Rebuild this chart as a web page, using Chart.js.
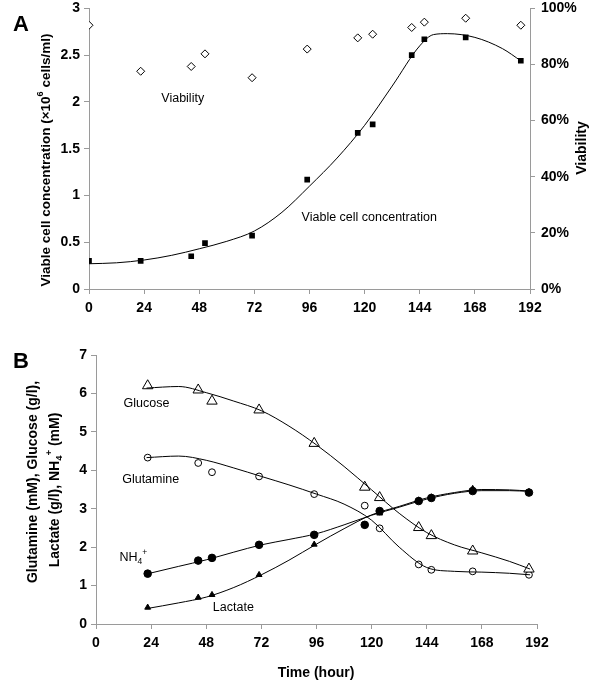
<!DOCTYPE html>
<html>
<head>
<meta charset="utf-8">
<script src="https://cdn.jsdelivr.net/npm/chart.js@4.4.1/dist/chart.umd.min.js"></script>
<style>
  html, body { margin: 0; padding: 0; background: #fff; overflow: hidden; }
  #wrapA { position: absolute; left: 0; top: -6px; width: 600px; height: 341px; }
  #wrapB { position: absolute; left: 0; top: 335px; width: 600px; height: 355px; }
</style>
</head>
<body>
<div id="wrapA"><canvas id="chartA"></canvas></div>
<div id="wrapB"><canvas id="chartB"></canvas></div>
<script>
/* ---------------- Panel A data ---------------- */
const sampleHoursA = [0, 22.5, 44.5, 50.5, 71, 95, 117, 123.5, 140.5, 146, 164, 188];
const viableCells  = [0.30, 0.30, 0.35, 0.49, 0.57, 1.17, 1.67, 1.76, 2.50, 2.67, 2.69, 2.44];
const viabilityPct = [94, 77.6, 79.3, 83.8, 75.3, 85.5, 89.5, 90.8, 93.2, 95.1, 96.5, 94];

const fitHoursA   = [0, 12, 24, 36, 48, 60, 72, 84, 96, 108, 120, 132, 144, 150, 156, 168, 180, 188];
const viableFit   = [0.27, 0.28, 0.31, 0.36, 0.43, 0.51, 0.62, 0.82, 1.10, 1.40, 1.75, 2.17, 2.60, 2.72, 2.73, 2.69, 2.57, 2.44];

/* ---------------- Panel B data ---------------- */
const sampleHoursB = [22.5, 44.5, 50.5, 71, 95, 117, 123.5, 140.5, 146, 164, 188.5];
const glucose   = [6.20, 6.09, 5.80, 5.57, 4.70, 3.56, 3.29, 2.51, 2.30, 1.90, 1.43];
const glutamine = [4.33, 4.19, 3.95, 3.84, 3.38, 3.08, 2.49, 1.55, 1.41, 1.37, 1.28];
const ammonium  = [1.31, 1.65, 1.72, 2.06, 2.32, 2.58, 2.94, 3.20, 3.28, 3.46, 3.42];
const lactate   = [0.43, 0.69, 0.76, 1.28, 2.07, null, 2.88, 3.22, 3.30, 3.52, 3.44];

const fitHoursB    = [22, 36, 48, 60, 72, 84, 96, 108, 120, 132, 144, 156, 168, 180, 189];
const glucoseFit   = [6.14, 6.18, 6.02, 5.80, 5.55, 5.15, 4.66, 4.10, 3.49, 2.88, 2.38, 2.06, 1.85, 1.63, 1.43];
const glutamineFit = [4.33, 4.37, 4.26, 4.06, 3.84, 3.62, 3.38, 3.12, 2.70, 2.00, 1.47, 1.37, 1.35, 1.32, 1.28];
const ammoniumFit  = [1.30, 1.50, 1.67, 1.87, 2.06, 2.20, 2.35, 2.58, 2.83, 3.04, 3.25, 3.40, 3.47, 3.47, 3.45];
const lactateFit   = [0.40, 0.55, 0.70, 0.95, 1.28, 1.66, 2.08, 2.48, 2.84, 3.06, 3.28, 3.42, 3.50, 3.49, 3.46];

/* ---------------- Tick labels ---------------- */
const hourTicks    = [0, 24, 48, 72, 96, 120, 144, 168, 192];
const cellTicks    = [0, 0.5, 1, 1.5, 2, 2.5, 3];
const percentTicks = [0, 20, 40, 60, 80, 100];
const metabTicks   = [0, 1, 2, 3, 4, 5, 6, 7];

const FONT = '"Liberation Sans", Arial, sans-serif';
const AXIS_GRAY = "#9a9a9a";

const zip = (xs, ys) => xs.map((x, i) => ({ x: x, y: ys[i] }));

/* draws a text made of parts (normal / sup / sub), centred on (cx, cy) */
function drawRich(ctx, parts, cx, cy, size, weight, rotate) {
  const fontFor = (p) => `${weight} ${p.s ? size * 0.68 : size}px ${FONT}`;
  ctx.save();
  ctx.translate(cx, cy);
  if (rotate) ctx.rotate(rotate);
  let total = 0;
  parts.forEach((p) => { ctx.font = fontFor(p); total += ctx.measureText(p.t).width; });
  let x = -total / 2;
  ctx.fillStyle = "#000";
  ctx.textAlign = "left";
  ctx.textBaseline = "middle";
  parts.forEach((p) => {
    ctx.font = fontFor(p);
    const dy = p.s === "sup" ? -size * 0.38 : p.s === "sub" ? size * 0.3 : 0;
    ctx.fillText(p.t, x, dy);
    x += ctx.measureText(p.t).width;
  });
  ctx.restore();
}

/* labels plugin: text placed in data coordinates, titles in pixels */
const textPlugin = {
  id: "texts",
  afterDraw(chart, args, opts) {
    const ctx = chart.ctx;
    (opts.inData || []).forEach((l) => {
      const xs = chart.scales.x, ys = chart.scales[l.axis || "y"];
      drawRich(ctx, l.parts, xs.getPixelForValue(l.x), ys.getPixelForValue(l.y), l.size, l.weight || "normal", 0);
    });
    (opts.inPixels || []).forEach((l) => {
      drawRich(ctx, l.parts, l.x, l.y, l.size, l.weight || "bold", l.rotate || 0);
    });
  }
};

function axisStyle(extra) {
  return Object.assign({
    grid: { drawOnChartArea: false, drawTicks: true, tickLength: 5, color: AXIS_GRAY, lineWidth: 1 },
    border: { color: AXIS_GRAY, width: 1 },
    ticks: { color: "#000", font: { family: FONT, size: 14, weight: "bold" }, callback: (v) => String(v) }
  }, extra);
}

function hourAxis(height) {
  const ax = axisStyle({ type: "linear", min: 0, max: 192 });
  ax.ticks.padding = 6;
  ax.afterBuildTicks = (s) => { s.ticks = hourTicks.map((v) => ({ value: v })); };
  ax.afterFit = (s) => { s.height = height; };
  return ax;
}

/* ---------------- Panel A chart ---------------- */
function renderPanelA() {
  const yLeft = axisStyle({ type: "linear", position: "left", min: 0, max: 3 });
  yLeft.ticks.padding = 4;
  yLeft.afterBuildTicks = (s) => { s.ticks = cellTicks.map((v) => ({ value: v })); };
  yLeft.afterFit = (s) => { s.width = 89; };

  const yRight = axisStyle({ type: "linear", position: "right", min: 0, max: 100 });
  yRight.ticks.padding = 6;
  yRight.ticks.callback = (v) => v + "%";
  yRight.afterBuildTicks = (s) => { s.ticks = percentTicks.map((v) => ({ value: v })); };
  yRight.afterFit = (s) => { s.width = 70; };

  new Chart(document.getElementById("chartA"), {
    type: "scatter",
    data: {
      datasets: [
        {
          data: zip(fitHoursA, viableFit), showLine: true, pointRadius: 0,
          borderColor: "#000", borderWidth: 1, cubicInterpolationMode: "monotone", yAxisID: "y"
        },
        {
          data: zip(sampleHoursA, viableCells), pointStyle: "rect", pointRadius: 4,
          backgroundColor: "#000", borderColor: "#000", borderWidth: 0, yAxisID: "y"
        },
        {
          data: zip(sampleHoursA, viabilityPct), pointStyle: "rectRot", pointRadius: 4,
          backgroundColor: "#fff", borderColor: "#000", borderWidth: 1, yAxisID: "yR"
        }
      ]
    },
    options: {
      animation: false,
      responsive: true,
      maintainAspectRatio: false,
      layout: { padding: { top: 7.5, left: 0, right: 0, bottom: 0 } },
      plugins: {
        legend: { display: false },
        tooltip: { enabled: false },
        texts: {
          inData: [
            { parts: [{ t: "Viability" }], x: 40.8, y: 2.04, size: 12.5 },
            { parts: [{ t: "Viable cell concentration" }], x: 122, y: 0.76, size: 12.5 }
          ],
          inPixels: [
            { parts: [{ t: "A" }], x: 21, y: 31, size: 22 },
            { parts: [{ t: "Viable cell concentration (×10" }, { t: "6", s: "sup" }, { t: " cells/ml)" }],
              x: 46, y: 166, size: 13.5, rotate: -Math.PI / 2 },
            { parts: [{ t: "Viability" }], x: 582, y: 154, size: 14, rotate: -Math.PI / 2 }
          ]
        }
      },
      scales: { x: hourAxis(46), y: yLeft, yR: yRight }
    },
    plugins: [textPlugin]
  });
}

/* ---------------- Panel B chart ---------------- */
function renderPanelB() {
  const yAxis = axisStyle({ type: "linear", position: "left", min: 0, max: 7 });
  yAxis.ticks.padding = 4;
  yAxis.afterBuildTicks = (s) => { s.ticks = metabTicks.map((v) => ({ value: v })); };
  yAxis.afterFit = (s) => { s.width = 96; };

  const fitLine = (ys) => ({
    data: zip(fitHoursB, ys), showLine: true, pointRadius: 0,
    borderColor: "#000", borderWidth: 1, cubicInterpolationMode: "monotone"
  });
  const marks = (ys, style, r, fill) => ({
    data: zip(sampleHoursB, ys), pointStyle: style, pointRadius: r,
    backgroundColor: fill, borderColor: "#000", borderWidth: 1
  });

  new Chart(document.getElementById("chartB"), {
    type: "scatter",
    data: {
      datasets: [
        fitLine(glucoseFit), fitLine(glutamineFit), fitLine(ammoniumFit), fitLine(lactateFit),
        marks(glucose, "triangle", 6, "#fff"),
        marks(glutamine, "circle", 3.4, "#fff"),
        marks(lactate, "triangle", 3.4, "#000"),
        marks(ammonium, "circle", 3.8, "#000")
      ]
    },
    options: {
      animation: false,
      responsive: true,
      maintainAspectRatio: false,
      layout: { padding: { top: 20, left: 0, right: 63, bottom: 0 } },
      plugins: {
        legend: { display: false },
        tooltip: { enabled: false },
        texts: {
          inData: [
            { parts: [{ t: "Glucose" }], x: 22, y: 5.73, size: 12.5 },
            { parts: [{ t: "Glutamine" }], x: 23.8, y: 3.75, size: 12.5 },
            { parts: [{ t: "NH" }, { t: "4", s: "sub" }, { t: "+", s: "sup" }], x: 16.3, y: 1.73, size: 12.5 },
            { parts: [{ t: "Lactate" }], x: 59.8, y: 0.42, size: 12.5 }
          ],
          inPixels: [
            { parts: [{ t: "B" }], x: 21, y: 27, size: 22 },
            { parts: [{ t: "Glutamine (mM), Glucose (g/l)," }], x: 33, y: 147, size: 14, rotate: -Math.PI / 2 },
            { parts: [{ t: "Lactate (g/l), NH" }, { t: "4", s: "sub" }, { t: "+", s: "sup" }, { t: " (mM)" }],
              x: 55, y: 155, size: 14, rotate: -Math.PI / 2 },
            { parts: [{ t: "Time (hour)" }], x: 316, y: 338, size: 14 }
          ]
        }
      },
      scales: { x: hourAxis(66), y: yAxis }
    },
    plugins: [textPlugin]
  });
}

document.addEventListener("DOMContentLoaded", () => {
  renderPanelA();
  renderPanelB();
});
</script>
</body>
</html>
